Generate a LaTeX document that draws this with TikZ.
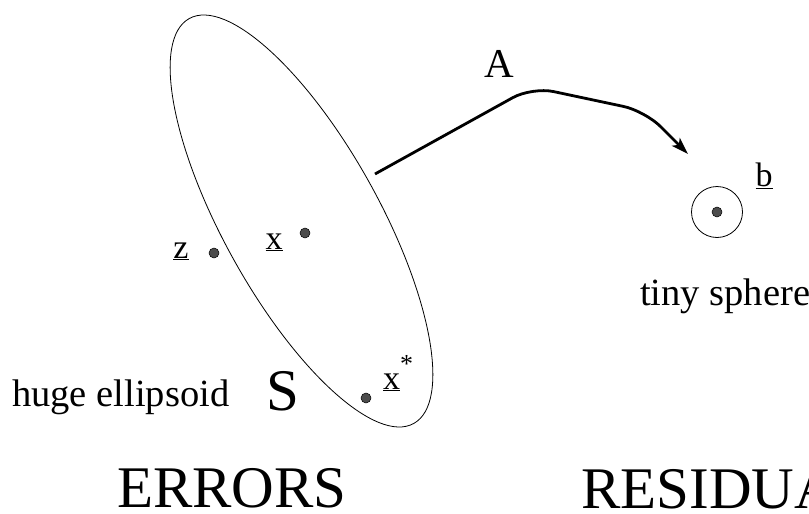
\documentclass[tikz,border=0pt]{standalone}
\usepackage{fontspec}
\setmainfont{Liberation Serif}
\usetikzlibrary{arrows.meta}
\tikzset{
  pt/.style={circle,fill=black!70,draw=black,line width=0.5pt,inner sep=0pt,minimum size=10pt},
  lbl/.style={inner sep=0pt,anchor=base,font=\fontsize{34}{36}\selectfont},
  word/.style={inner sep=0pt,anchor=base west,font=\fontsize{38.5}{40}\selectfont},
  big/.style={inner sep=0pt,anchor=base west,font=\fontsize{59}{60}\selectfont},
  map/.style={line width=2.8pt,rounded corners=22pt,-{Stealth[length=17pt,width=11pt,inset=4pt]}}
}
\begin{document}
\begin{tikzpicture}[x=1pt,y=1pt]
\useasboundingbox (0,0) rectangle (809,-514);
\begin{scope}
\clip (0,0) rectangle (809,-514);
% the set S
\draw[line width=0.8pt,shift={(301.5,-221)},rotate=-61] (0,0) ellipse (231.5 and 78);
% points
\node[pt] (z) at (214,-253) {};
\node[pt] (x) at (305,-233) {};
\node[pt] (xs) at (366,-398) {};
\node[pt] (b) at (717,-212) {};
\draw[line width=0.8pt] (b) circle (25.5);
\node[lbl] at (181,-258) {\underline{z}};
\node[lbl] at (274,-249) {\underline{x}};
\node[lbl] at (398,-389) {\underline{x}\raisebox{17pt}{\fontsize{26}{26}\selectfont *}};
\node[lbl] at (764,-186) {\underline{b}};
% texts
\node[word] at (12,-406) {huge ellipsoid};
\node[big] at (266,-410) {S};
\node[word] at (640,-305) {tiny sphere};
\node[lbl,font=\fontsize{41}{42}\selectfont] at (499,-77) {A};
\node[big] at (117,-507) {ERRORS};
\node[big] at (581,-508) {RESIDUALS};
% the map A
\coordinate (aStart) at (375,-174);
\coordinate (aEnd) at (688,-154);
\draw[map] (aStart) -- (532,-87) -- (645,-111) -- (aEnd);
\end{scope}
\end{tikzpicture}
\end{document}
